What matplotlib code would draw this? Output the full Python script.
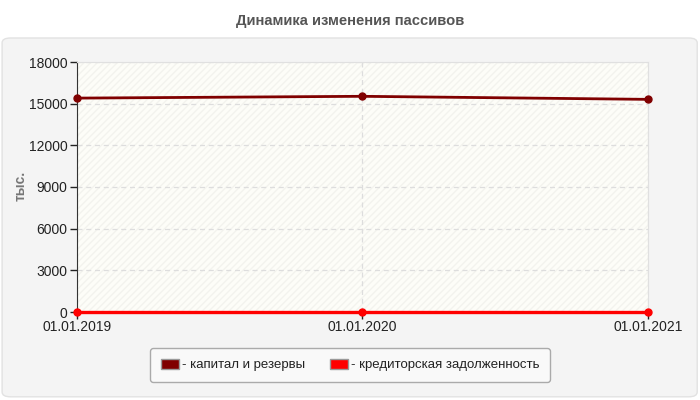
import matplotlib

matplotlib.use("Agg")
import matplotlib.pyplot as plt
import matplotlib.dates as mdates
from matplotlib.patches import FancyBboxPatch, Patch
from datetime import date

plt.rcParams["font.family"] = ["Liberation Sans", "DejaVu Sans"]

dates = [date(2019, 1, 1), date(2020, 1, 1), date(2021, 1, 1)]
date_labels = ["01.01.2019", "01.01.2020", "01.01.2021"]
capital = [15400, 15530, 15310]
payables = [0, 0, 0]
y_ticks = [0, 3000, 6000, 9000, 12000, 15000, 18000]

C_CAP = "#800000"
C_PAY = "#ff0000"
TXT = "#222222"

fig = plt.figure(figsize=(7, 4), dpi=100)
fig.patch.set_facecolor("white")

# outer light-grey panel (behind the axes)
panel = FancyBboxPatch((0.003, 0.008), 0.993, 0.897,
                       boxstyle="round,pad=0,rounding_size=0.012",
                       transform=fig.transFigure, facecolor="#f4f4f4",
                       edgecolor="#e2e2e2", lw=1, zorder=-10)
fig.patches.append(panel)

fig.text(0.5, 0.947, "Динамика изменения пассивов", ha="center", va="center",
         fontsize=10.6, fontweight="bold", color="#555555")

ax = fig.add_axes([0.11, 0.22, 0.8157, 0.625])
ax.set_facecolor("#fdfdf8")
ax.patch.set_hatch("/////")
ax.patch.set_edgecolor("#f3f3ee")
ax.patch.set_linewidth(0)

x = mdates.date2num(dates)
ax.plot(x, capital, color=C_CAP, lw=2, marker="o", ms=5, clip_on=False, zorder=4)
ax.plot(x, payables, color=C_PAY, lw=2.4, marker="o", ms=5, clip_on=False, zorder=5)

ax.set_xlim(x[0], x[-1])
ax.set_ylim(0, 18000)
ax.set_yticks(y_ticks)
ax.set_yticklabels([str(v) for v in y_ticks])
ax.set_xticks(x)
ax.set_xticklabels(date_labels)
ax.tick_params(axis="both", labelsize=10, colors=TXT, length=5, width=1,
               direction="out", pad=2)
ax.tick_params(axis="x", pad=1)

ax.grid(True, ls=(0, (4, 3)), color="#dddddd", lw=0.9)
ax.set_axisbelow(True)
for side in ("top", "right"):
    ax.spines[side].set_color("#e0e0e0")
ax.spines["left"].set_color("#333333")
ax.spines["bottom"].set_color("#333333")

fig.text(0.03, 0.535, "тыс.", rotation=90, ha="center", va="center",
         fontsize=10, fontweight="bold", color="#777777")

handles = [Patch(facecolor=C_CAP, edgecolor="#999999"),
           Patch(facecolor=C_PAY, edgecolor="#999999")]
labels = ["- капитал и резервы", "- кредиторская задолженность"]
leg = fig.legend(handles, labels, loc="center", bbox_to_anchor=(0.5, 0.0875),
                 ncol=2, fontsize=9.5, frameon=True, fancybox=True,
                 handlelength=1.4, handleheight=0.8, handletextpad=0.2,
                 columnspacing=1.9, borderpad=0.8, labelcolor=TXT)
leg.get_frame().set_facecolor("#f9f9f9")
leg.get_frame().set_edgecolor("#aaaaaa")
leg.get_frame().set_alpha(1)

fig.savefig("out.png", dpi=100)
